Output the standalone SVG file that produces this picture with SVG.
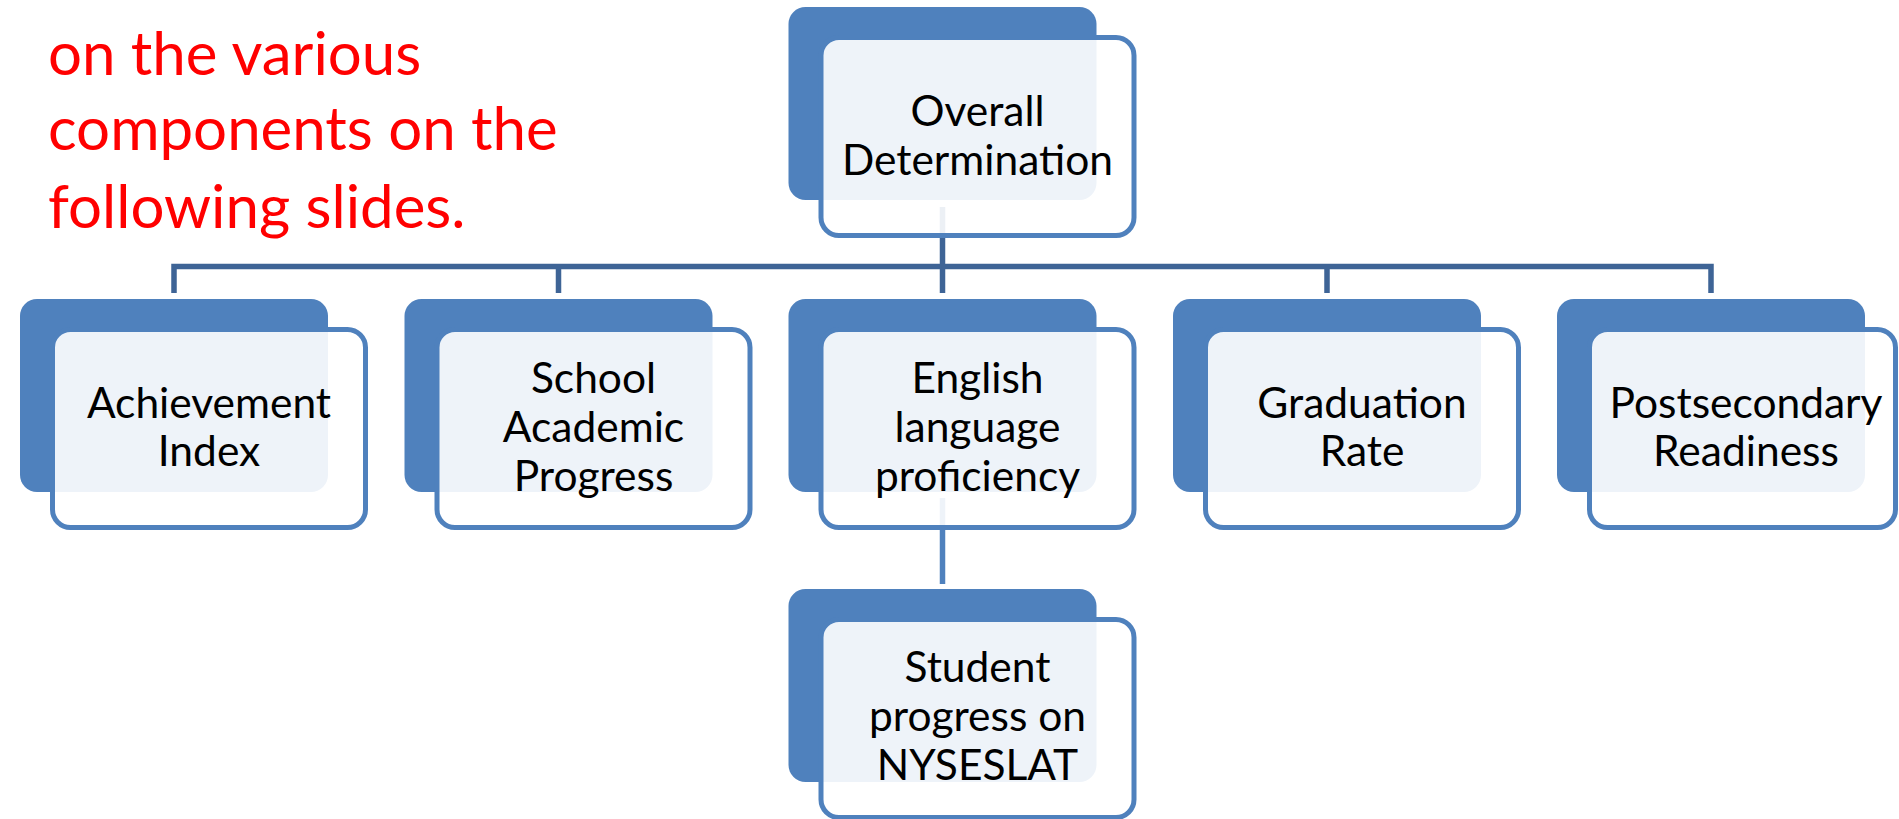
<svg xmlns="http://www.w3.org/2000/svg" width="1899" height="819" viewBox="0 0 1899 819">
<style>
.back{fill:#4F81BD}
.front{fill:#FFFFFF;fill-opacity:0.9;stroke:#4F81BD;stroke-width:5}
.lbl{font-family:Lato,"Liberation Sans",sans-serif;font-size:42.5px;fill:#000;text-anchor:middle}
.note{font-family:Lato,"Liberation Sans",sans-serif;font-size:60px;fill:#FF0000}
.c1{fill:none;stroke:#3E6496;stroke-width:5.5}
.c2{fill:none;stroke:#4F81BD;stroke-width:5.5}
</style>
<rect width="1899" height="819" fill="#FFFFFF"/>
<g id="note">
<text class="note" x="48" y="75">on the various</text>
<text class="note" x="48" y="150">components on the</text>
<text class="note" x="48" y="228">following slides.</text>
</g>
<g id="connectors">
<path class="c1" d="M942.5 207V266.5M174 293V266.5H1711V293M558.5 266.5V293M942.5 266.5V293M1327 266.5V293"/>
<path class="c2" d="M942.5 498V584"/>
</g>
<g id="overall">
<rect class="back" x="788.5" y="7" width="308" height="193" rx="17"/>
<rect class="front" x="821" y="37.5" width="313" height="198" rx="18"/>
<text class="lbl" x="977.5" y="126">Overall</text>
<text class="lbl" x="977.5" y="174.5">Determination</text>
</g>
<g id="achievement">
<rect class="back" x="20" y="299" width="308" height="193" rx="17"/>
<rect class="front" x="52.5" y="329.5" width="313" height="198" rx="18"/>
<text class="lbl" x="209" y="417.5">Achievement</text>
<text class="lbl" x="209" y="466">Index</text>
</g>
<g id="school">
<rect class="back" x="404.5" y="299" width="308" height="193" rx="17"/>
<rect class="front" x="437" y="329.5" width="313" height="198" rx="18"/>
<text class="lbl" x="593.5" y="392.5">School</text>
<text class="lbl" x="593.5" y="441.5">Academic</text>
<text class="lbl" x="593.5" y="490.5">Progress</text>
</g>
<g id="english">
<rect class="back" x="788.5" y="299" width="308" height="193" rx="17"/>
<rect class="front" x="821" y="329.5" width="313" height="198" rx="18"/>
<text class="lbl" x="977.5" y="392.5">English</text>
<text class="lbl" x="977.5" y="441.5">language</text>
<text class="lbl" x="977.5" y="490.5">proficiency</text>
</g>
<g id="graduation">
<rect class="back" x="1173" y="299" width="308" height="193" rx="17"/>
<rect class="front" x="1205.5" y="329.5" width="313" height="198" rx="18"/>
<text class="lbl" x="1362" y="417.5">Graduation</text>
<text class="lbl" x="1362" y="466">Rate</text>
</g>
<g id="postsecondary">
<rect class="back" x="1557" y="299" width="308" height="193" rx="17"/>
<rect class="front" x="1589.5" y="329.5" width="306" height="198" rx="18"/>
<text class="lbl" x="1746" y="417.5">Postsecondary</text>
<text class="lbl" x="1746" y="466">Readiness</text>
</g>
<g id="student">
<rect class="back" x="788.5" y="589" width="308" height="193" rx="17"/>
<rect class="front" x="821" y="619.5" width="313" height="198" rx="18"/>
<text class="lbl" x="977.5" y="682">Student</text>
<text class="lbl" x="977.5" y="731">progress on</text>
<text class="lbl" x="977.5" y="780">NYSESLAT</text>
</g>
</svg>
